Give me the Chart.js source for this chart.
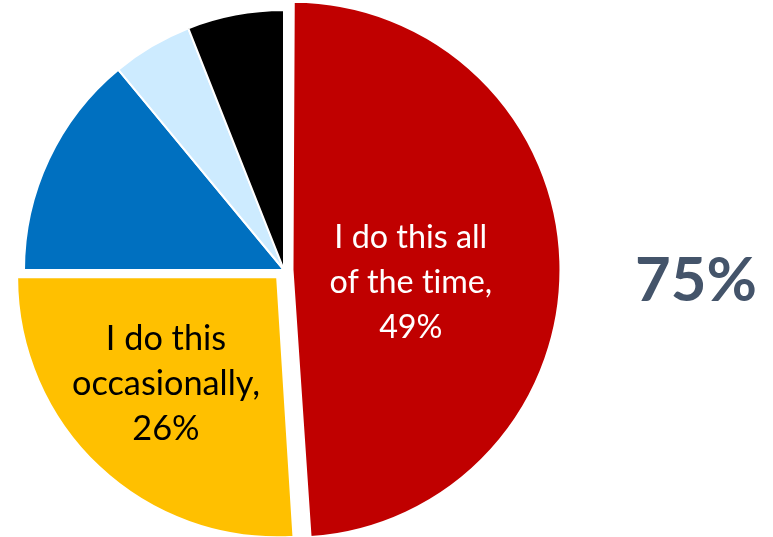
<!DOCTYPE html>
<html>
<head>
<meta charset="utf-8">
<script src="https://cdn.jsdelivr.net/npm/chart.js@4/dist/chart.umd.min.js"></script>
<style>
  html, body { margin: 0; padding: 0; background: #ffffff; }
  #wrap { width: 773px; height: 537px; position: relative; }
</style>
</head>
<body>
<div id="wrap"><canvas id="c" width="773" height="537"></canvas></div>
<script>
// ---- data ----
const categories = [
  "I do this all of the time",
  "I do this occasionally",
  "Other 1",
  "Other 2",
  "Other 3"
];
const values = [49, 26, 14, 5, 6];
const labelLines0 = ["I do this all", "of the time,", "49%"];
const labelLines1 = ["I do this", "occasionally,", "26%"];
const bigNumber = "75%";

// ---- styling ----
const sliceColors = ["#C00000", "#FFC000", "#0070C0", "#CDEBFF", "#000000"];
const sliceOffsets = [34, 40, 0, 0, 0]; // Chart.js translates by offset/4
const FONT = "Lato, 'Open Sans', 'Noto Sans', sans-serif";

function fitFont(ctx, lines, weight, targetWidth) {
  let size = 40;
  ctx.font = weight + " " + size + "px " + FONT;
  let w = 0;
  lines.forEach(l => { w = Math.max(w, ctx.measureText(l).width); });
  return size * targetWidth / w;
}

const labelPlugin = {
  id: "sliceLabels",
  afterDatasetsDraw(chart) {
    const ctx = chart.ctx;
    const meta = chart.getDatasetMeta(0);
    const a0 = meta.data[0];
    const a1 = meta.data[1];
    const r = a0.outerRadius;
    ctx.save();
    try { ctx.textRendering = "optimizeSpeed"; } catch (e) {}
    ctx.textAlign = "center";
    ctx.textBaseline = "middle";
    const lh = 45;

    // label inside red slice
    let size = fitFont(ctx, labelLines0, "normal", 163);
    ctx.font = "normal " + size.toFixed(1) + "px " + FONT;
    ctx.fillStyle = "#FFFFFF";
    let lx = a0.x + 0.455 * r + sliceOffsets[0] / 4;
    let ly = a0.y + 0.05 * r;
    labelLines0.forEach((t, i) => ctx.fillText(t, lx, ly + (i - 1) * lh));

    // label inside yellow slice
    size = fitFont(ctx, labelLines1, "normal", 188);
    ctx.font = "normal " + size.toFixed(1) + "px " + FONT;
    ctx.fillStyle = "#000000";
    lx = a1.x - 0.454 * r;
    ly = a1.y + 0.438 * r;
    labelLines1.forEach((t, i) => ctx.fillText(t, lx, ly + (i - 1) * lh));

    // big number at right
    size = fitFont(ctx, [bigNumber], "bold", 122);
    ctx.font = "bold " + size.toFixed(1) + "px " + FONT;
    ctx.fillStyle = "#44546A";
    ctx.fillText(bigNumber, 696, 281);
    ctx.restore();
  }
};

new Chart(document.getElementById("c"), {
  type: "pie",
  data: {
    labels: categories,
    datasets: [{
      data: values,
      backgroundColor: sliceColors,
      borderColor: "#FFFFFF",
      borderWidth: 2,
      hoverBorderWidth: 2,
      offset: sliceOffsets,
      hoverOffset: 0,
      radius: 260
    }]
  },
  options: {
    responsive: false,
    animation: false,
    layout: { padding: { left: 0, right: 205, top: 3, bottom: 0 } },
    plugins: {
      legend: { display: false },
      tooltip: { enabled: false }
    },
    events: []
  },
  plugins: [labelPlugin]
});
</script>
</body>
</html>
